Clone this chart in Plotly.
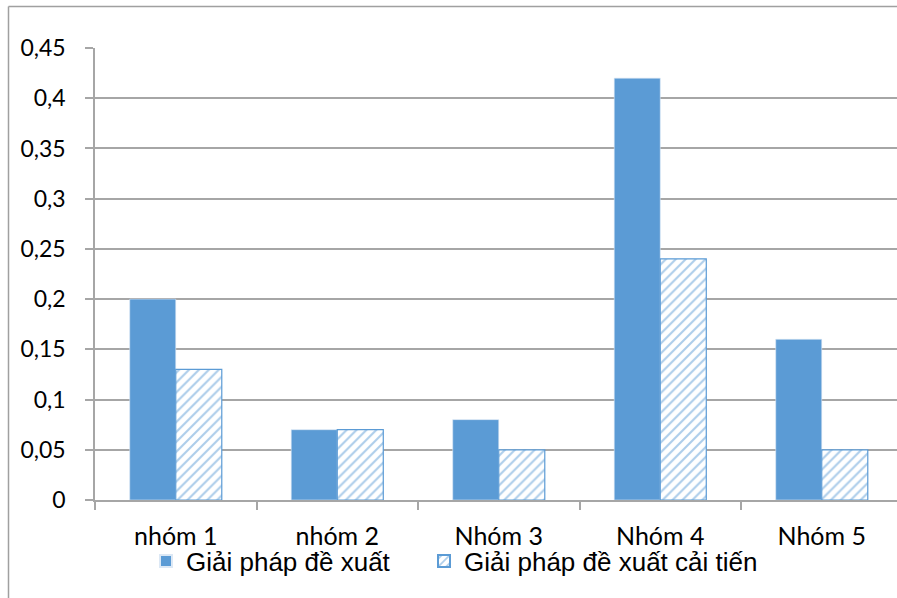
import plotly.graph_objects as go

categories = ["nhóm 1", "nhóm 2", "Nhóm 3", "Nhóm 4", "Nhóm 5"]
series_names = ["Giải pháp đề xuất", "Giải pháp đề xuất cải tiến"]
proposed = [0.20, 0.07, 0.08, 0.42, 0.16]
improved = [0.13, 0.07, 0.05, 0.24, 0.05]
y_ticks = [0, 0.05, 0.1, 0.15, 0.2, 0.25, 0.3, 0.35, 0.4, 0.45]

BLUE = "#5B9BD5"
GRID = "#A6A6A6"

fig = go.Figure()
fig.add_trace(go.Bar(
    x=categories, y=proposed, name=series_names[0], legend="legend",
    marker=dict(color=BLUE, line=dict(color="#DCE8F5", width=0.6)),
))
fig.add_trace(go.Bar(
    x=categories, y=improved, name=series_names[1], legend="legend2",
    marker=dict(
        color="white",
        line=dict(color=BLUE, width=1.2),
        pattern=dict(shape="/", fgcolor=BLUE, bgcolor="white",
                     size=7, solidity=0.3),
    ),
))

W, H = 897, 598
L, T, B = 95, 48, 98
plot_w = W - L
plot_h = H - T - B
cat_px = 161.5

legend_style = dict(
    orientation="h", xanchor="left",
    y=-61 / plot_h, yanchor="middle",
    font=dict(family="Liberation Sans, Arial", size=26, color="black"),
    itemsizing="constant", itemwidth=30,
    bgcolor="rgba(0,0,0,0)",
)

fig.update_layout(
    width=W, height=H,
    margin=dict(l=L, r=0, t=T, b=B, pad=0),
    paper_bgcolor="white", plot_bgcolor="white",
    barmode="group", bargap=0.43, bargroupgap=0,
    separators=",.",
    showlegend=True,
    legend=dict(legend_style, x=(146 - L) / plot_w),
    legend2=dict(legend_style, x=(424 - L) / plot_w),
    font=dict(family="Lato", color="black"),
    shapes=[
        dict(type="line", xref="paper", yref="paper",
             x0=(8.5 - L) / plot_w, x1=1.05,
             y0=1 + (T - 6.5) / plot_h, y1=1 + (T - 6.5) / plot_h,
             line=dict(color="#A0A0A0", width=1.5)),
        dict(type="line", xref="paper", yref="paper",
             x0=(8.5 - L) / plot_w, x1=(8.5 - L) / plot_w,
             y0=1 + (T - 6.5) / plot_h, y1=-0.3,
             line=dict(color="#A0A0A0", width=1.5)),
    ],
)

fig.update_xaxes(
    type="category",
    range=[-0.5, -0.5 + plot_w / cat_px],
    showline=True, linecolor=GRID, linewidth=1.5,
    ticks="outside", tickson="boundaries", ticklen=8, tickcolor=GRID, tickwidth=1.5,
    tickfont=dict(family="Lato", size=25, color="black"),
    ticklabelstandoff=13,
    showgrid=False, zeroline=False,
)
fig.update_yaxes(
    range=[0, 0.45], tickvals=y_ticks,
    showline=True, linecolor=GRID, linewidth=1.5,
    ticks="outside", ticklen=8, tickcolor=GRID, tickwidth=1.5,
    tickfont=dict(family="Lato", size=23, color="black"),
    ticklabelstandoff=15,
    showgrid=True, gridcolor=GRID, gridwidth=1.5,
    zeroline=False,
)

fig.write_html("out.html")
